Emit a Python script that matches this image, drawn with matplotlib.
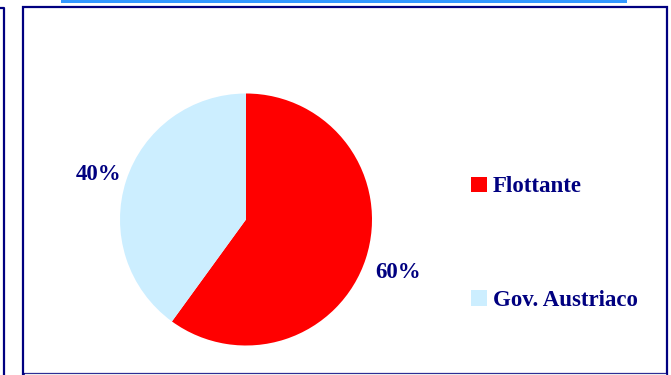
import matplotlib.pyplot as plt
from matplotlib.patches import Rectangle
from matplotlib.transforms import offset_copy

# Ownership split
labels = ['Flottante', 'Gov. Austriaco']
shares = [60, 40]
colors = ['#ff0000', '#cceeff']

navy = '#000080'
plt.rcParams['font.family'] = ['Liberation Serif', 'DejaVu Serif']
plt.rcParams['font.weight'] = 'bold'

W, H = 671, 375
fig = plt.figure(figsize=(W / 100, H / 100), dpi=100)


def px(x0, y0, x1, y1):
    # pixel box (top-left origin) -> figure fraction rect
    return (x0 / W, 1 - y1 / H, (x1 - x0) / W, (y1 - y0) / H)


# decorative frame pieces
bx, by, bw, bh = px(61, 0, 627, 3)
fig.patches.append(Rectangle((bx, by), bw, bh, transform=fig.transFigure,
                             color='#3399ff', lw=0))
fig.patches.append(Rectangle((23 / W, 1 - 374 / H), (667 - 23) / W, (374 - 7) / H,
                             transform=fig.transFigure, fill=False, ec=navy, lw=1.6))
fig.lines.append(plt.Line2D([25 / W, 665 / W], [1 - 373.5 / H, 1 - 373.5 / H],
                            transform=fig.transFigure, color='#ececec', lw=1.0))
fig.lines.append(plt.Line2D([0, 3.5 / W, 3.5 / W], [1 - 8 / H, 1 - 8 / H, 0],
                            transform=fig.transFigure, color=navy, lw=1.6))

# pie
cx, cy, r = 246, 219.5, 126
ax = fig.add_axes(px(cx - r, cy - r, cx + r, cy + r))
wedges, texts, autotexts = ax.pie(shares, colors=colors, startangle=90, counterclock=False,
                                  radius=1, autopct='%.0f%%', pctdistance=1.25,
                                  textprops=dict(color=navy, fontsize=16.5, fontweight='bold'),
                                  wedgeprops=dict(lw=0))
for t in autotexts:
    t.set_transform(offset_copy(ax.transData, fig=fig, x=2, y=-4, units='dots'))
ax.set_xlim(-1, 1)
ax.set_ylim(-1, 1)
ax.set_aspect('equal')
ax.axis('off')

fig.legend(wedges, labels, loc='upper left', bbox_to_anchor=(471 / W, 1 - 176.5 / H),
           frameon=False, labelcolor=navy, borderpad=0, borderaxespad=0,
           handlelength=0.68, handleheight=0.68, handletextpad=0.28, labelspacing=4.05,
           prop=dict(weight='bold', size=16.5))

fig.savefig('out.png', dpi=100)
